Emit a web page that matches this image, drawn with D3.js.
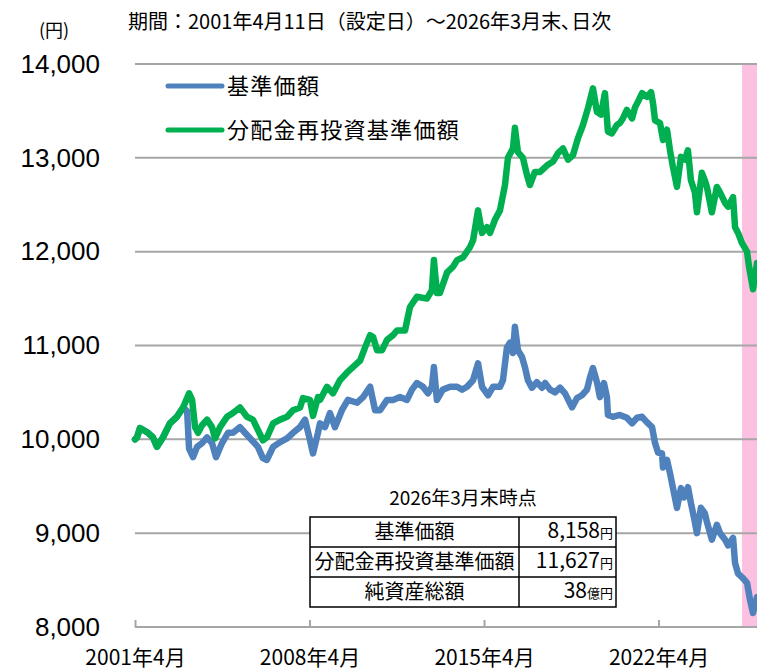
<!DOCTYPE html>
<html>
<head>
<meta charset="utf-8">
<script src="https://cdn.jsdelivr.net/npm/d3@7"></script>
<style>
  body { margin: 0; background: #fff; }
  text { font-family: "Noto Sans CJK JP", "Noto Sans", sans-serif; fill: #000; }
</style>
</head>
<body>
<div id="chart"></div>
<script>
// 分配金再投資基準価額 (green) - fractional year / value
var reinvYears = [2001.28, 2001.36, 2001.48, 2001.80, 2002.00, 2002.16, 2002.40, 2002.68, 2002.96, 2003.21,
    2003.45, 2003.57, 2003.69, 2003.81, 2003.97, 2004.17, 2004.37, 2004.49, 2004.69, 2004.97,
    2005.21, 2005.49, 2005.77, 2006.01, 2006.21, 2006.41, 2006.57, 2006.82, 2007.10, 2007.38,
    2007.62, 2007.90, 2008.02, 2008.30, 2008.42, 2008.62, 2008.70, 2008.98, 2009.22, 2009.50,
    2009.78, 2010.02, 2010.31, 2010.51, 2010.71, 2010.83, 2010.99, 2011.19, 2011.39, 2011.63,
    2011.79, 2012.11, 2012.31, 2012.59, 2012.99, 2013.19, 2013.27, 2013.39, 2013.51, 2013.80,
    2014.04, 2014.20, 2014.44, 2014.72, 2014.84, 2015.04, 2015.20, 2015.40, 2015.52, 2015.72,
    2015.92, 2016.12, 2016.24, 2016.44, 2016.52, 2016.64, 2016.84, 2017.00, 2017.12, 2017.32,
    2017.53, 2017.81, 2018.05, 2018.25, 2018.45, 2018.65, 2018.85, 2019.05, 2019.25, 2019.45,
    2019.65, 2019.81, 2019.97, 2020.13, 2020.25, 2020.41, 2020.61, 2020.73, 2020.85, 2021.01,
    2021.22, 2021.34, 2021.46, 2021.62, 2021.82, 2021.98, 2022.06, 2022.14, 2022.34, 2022.46,
    2022.62, 2022.74, 2022.86, 2023.02, 2023.18, 2023.34, 2023.46, 2023.58, 2023.74, 2023.82,
    2024.02, 2024.14, 2024.22, 2024.42, 2024.62, 2024.75, 2024.95, 2025.07, 2025.27, 2025.35,
    2025.47, 2025.63, 2025.83, 2025.91, 2026.07, 2026.23];
var reinvValues = [10000, 10020, 10120, 10070, 10020, 9920, 10020, 10170, 10240, 10340,
    10490, 10420, 10130, 10070, 10150, 10210, 10130, 10010, 10130, 10240,
    10280, 10340, 10240, 10210, 10100, 9990, 10020, 10170, 10210, 10240,
    10310, 10340, 10440, 10420, 10250, 10450, 10420, 10560, 10490, 10630,
    10710, 10770, 10840, 10980, 11110, 11090, 10950, 10950, 11060, 11110,
    11160, 11160, 11410, 11520, 11500, 11590, 11910, 11560, 11560, 11780,
    11840, 11910, 11940, 12050, 12120, 12440, 12200, 12260, 12200, 12340,
    12440, 12710, 13000, 13100, 13320, 13060, 13000, 12820, 12710, 12850,
    12850, 12920, 12960, 13050, 13100, 12980, 13030, 13210, 13350, 13530,
    13740, 13490, 13460, 13690, 13280, 13260, 13350, 13370, 13420, 13510,
    13420, 13540, 13600, 13690, 13650, 13700, 13580, 13400, 13370, 13190,
    13300, 13080, 12900, 12690, 13010, 12980, 13080, 12760, 12630, 12420,
    12840, 12760, 12690, 12420, 12690, 12630, 12520, 12480, 12580, 12260,
    12200, 12090, 12000, 11840, 11600, 11880];

// 基準価額 (blue)
var navYears = [2001.28, 2001.36, 2001.48, 2001.80, 2002.00, 2002.16, 2002.40, 2002.68, 2002.96, 2003.21,
    2003.37, 2003.45, 2003.61, 2003.77, 2003.97, 2004.17, 2004.37, 2004.53, 2004.77, 2005.01,
    2005.21, 2005.49, 2005.69, 2005.97, 2006.21, 2006.41, 2006.57, 2006.82, 2007.10, 2007.38,
    2007.62, 2007.90, 2008.10, 2008.30, 2008.42, 2008.62, 2008.70, 2008.90, 2009.10, 2009.30,
    2009.58, 2009.82, 2010.19, 2010.43, 2010.71, 2010.91, 2011.11, 2011.39, 2011.63, 2011.91,
    2012.19, 2012.39, 2012.59, 2012.83, 2013.03, 2013.19, 2013.27, 2013.39, 2013.63, 2013.92,
    2014.20, 2014.40, 2014.60, 2014.84, 2015.04, 2015.20, 2015.44, 2015.64, 2015.92, 2016.04,
    2016.20, 2016.32, 2016.44, 2016.52, 2016.64, 2016.80, 2016.92, 2017.04, 2017.20, 2017.40,
    2017.61, 2017.73, 2017.93, 2018.13, 2018.33, 2018.53, 2018.81, 2019.01, 2019.21, 2019.41,
    2019.53, 2019.65, 2019.81, 2019.93, 2020.09, 2020.21, 2020.25, 2020.45, 2020.73, 2021.01,
    2021.22, 2021.42, 2021.62, 2021.82, 2022.02, 2022.14, 2022.26, 2022.42, 2022.46, 2022.62,
    2022.74, 2022.86, 2023.02, 2023.18, 2023.30, 2023.46, 2023.58, 2023.70, 2023.82, 2023.98,
    2024.14, 2024.22, 2024.42, 2024.62, 2024.75, 2024.95, 2025.07, 2025.27, 2025.35, 2025.47,
    2025.63, 2025.83, 2025.95, 2026.07, 2026.23];
var navValues = [10000, 10020, 10120, 10070, 10020, 9920, 10020, 10170, 10240, 10340,
    10300, 9900, 9810, 9920, 9960, 10020, 9960, 9810, 9960, 10070,
    10070, 10130, 10070, 9990, 9920, 9800, 9780, 9920, 9970, 10010,
    10070, 10130, 10210, 9990, 9850, 10070, 10170, 10130, 10280, 10130,
    10310, 10420, 10390, 10450, 10560, 10310, 10310, 10420, 10420, 10450,
    10420, 10530, 10600, 10560, 10490, 10560, 10770, 10420, 10530, 10560,
    10560, 10530, 10560, 10630, 10810, 10560, 10470, 10560, 10560, 10630,
    10980, 11030, 10920, 11200, 10950, 10880, 10770, 10630, 10550, 10610,
    10550, 10600, 10530, 10500, 10550, 10490, 10340, 10440, 10470, 10530,
    10660, 10760, 10610, 10450, 10600, 10450, 10260, 10240, 10260, 10230,
    10170, 10230, 10240, 10180, 10130, 9960, 9860, 9850, 9700, 9780,
    9640, 9480, 9270, 9480, 9380, 9490, 9320, 9170, 9000, 9270,
    9210, 9120, 8930, 9090, 9000, 8930, 8870, 8950, 8680, 8570,
    8530, 8470, 8290, 8150, 8320];

var yTicks = [8000, 9000, 10000, 11000, 12000, 13000, 14000];
var xTickYears = [2001.28, 2008.28, 2015.28, 2022.28];
var xTickLabels = ["2001年4月", "2008年4月", "2015年4月", "2022年4月"];
var highlightYears = [2025.63, 2026.4];

var seriesNames = ["基準価額", "分配金再投資基準価額"];
var seriesColors = ["#4f81bd", "#00b050"];

var tableTitle = "2026年3月末時点";
var tableLabels = ["基準価額", "分配金再投資基準価額", "純資産総額"];
var tableNumbers = ["8,158", "11,627", "38"];
var tableUnits = ["円", "円", "億円"];

var titleText = "期間：2001年4月11日（設定日）～2026年3月末､日次";

var width = 757, height = 671;
var margin = { top: 64, right: 0, bottom: 44, left: 135 };

var svg = d3.select("#chart").append("svg")
    .attr("width", width)
    .attr("height", height);

var x = d3.scaleLinear()
    .domain([2001.28, 2026.23])
    .range([margin.left, width - margin.right]);

var y = d3.scaleLinear()
    .domain([8000, 14000])
    .range([height - margin.bottom, margin.top]);

// highlight band
svg.append("rect")
    .attr("x", x(highlightYears[0]))
    .attr("y", y(14000))
    .attr("width", x(highlightYears[1]) - x(highlightYears[0]))
    .attr("height", y(8000) - y(14000))
    .style("fill", "#fcc0e0");

// grid lines
svg.selectAll(".grid")
    .data(yTicks.slice(1))
    .enter().append("line")
    .attr("class", "grid")
    .attr("x1", x.range()[0])
    .attr("x2", width)
    .attr("y1", function(d) { return y(d); })
    .attr("y2", function(d) { return y(d); })
    .style("stroke", "#a6a6a6")
    .style("stroke-width", 2);

// x axis
var xAxis = d3.axisBottom(x)
    .tickValues(xTickYears)
    .tickSize(0)
    .tickFormat(function(d, i) { return xTickLabels[i]; });

var xg = svg.append("g")
    .attr("transform", "translate(0," + y(8000) + ")")
    .call(xAxis);
xg.select(".domain").remove();
xg.append("line")
    .attr("x1", x.range()[0]).attr("x2", width)
    .style("stroke", "#a6a6a6").style("stroke-width", 2);
xg.selectAll(".tick").append("line")
    .attr("y1", 0).attr("y2", -7)
    .style("stroke", "#a6a6a6").style("stroke-width", 2);
xg.selectAll(".tick text")
    .attr("y", 0)
    .attr("dy", 38)
    .style("font-size", "21px");

// y axis
var yAxis = d3.axisLeft(y)
    .tickValues(yTicks)
    .tickSize(0)
    .tickFormat(d3.format(","));

var yg = svg.append("g")
    .attr("transform", "translate(100,0)")
    .call(yAxis);
yg.select(".domain").remove();
yg.selectAll(".tick text")
    .attr("x", 0)
    .style("font-family", "'Liberation Sans', sans-serif")
    .style("font-size", "26px");

svg.append("text")
    .attr("x", 54)
    .attr("y", 37)
    .attr("text-anchor", "middle")
    .style("font-size", "18px")
    .text("(円)");

svg.append("text")
    .attr("x", 128)
    .attr("y", 29)
    .style("font-size", "20px")
    .text(titleText);

// lines
var line = d3.line()
    .x(function(d) { return x(d[0]); })
    .y(function(d) { return y(d[1]); });

var navData = navYears.map(function(t, i) { return [t, navValues[i]]; });
var reinvData = reinvYears.map(function(t, i) { return [t, reinvValues[i]]; });

[navData, reinvData].forEach(function(data, i) {
    svg.append("path")
        .datum(data)
        .attr("d", line)
        .style("fill", "none")
        .style("stroke", seriesColors[i])
        .style("stroke-width", 6.5)
        .style("stroke-linejoin", "round")
        .style("stroke-linecap", "round");
});

// legend
var legend = svg.selectAll(".legend")
    .data(seriesNames)
    .enter().append("g")
    .attr("class", "legend")
    .attr("transform", function(d, i) { return "translate(168," + (86 + i * 44) + ")"; });

legend.append("line")
    .attr("x1", 0).attr("x2", 54)
    .style("stroke", function(d, i) { return seriesColors[i]; })
    .style("stroke-width", 5)
    .style("stroke-linecap", "round");

legend.append("text")
    .attr("x", 59)
    .attr("dy", "0.36em")
    .style("font-size", "22px")
    .style("letter-spacing", "1.3px")
    .text(function(d) { return d; });

// summary table
var tbl = { left: 310, mid: 519, right: 616, top: 517, row: 30 };

svg.append("text")
    .attr("x", (tbl.left + tbl.right) / 2)
    .attr("y", tbl.top - 12)
    .attr("text-anchor", "middle")
    .style("font-size", "19px")
    .text(tableTitle);

svg.append("rect")
    .attr("x", tbl.left).attr("y", tbl.top)
    .attr("width", tbl.right - tbl.left)
    .attr("height", tbl.row * tableLabels.length)
    .style("fill", "#fff")
    .style("stroke", "#000")
    .style("stroke-width", 1.5);

svg.append("line")
    .attr("x1", tbl.mid).attr("x2", tbl.mid)
    .attr("y1", tbl.top).attr("y2", tbl.top + tbl.row * tableLabels.length)
    .style("stroke", "#000").style("stroke-width", 1.5);

tableLabels.forEach(function(label, i) {
    var rowY = tbl.top + tbl.row * i;
    if (i > 0) {
        svg.append("line")
            .attr("x1", tbl.left).attr("x2", tbl.right)
            .attr("y1", rowY).attr("y2", rowY)
            .style("stroke", "#000").style("stroke-width", 1.5);
    }
    svg.append("text")
        .attr("x", (tbl.left + tbl.mid) / 2)
        .attr("y", rowY + tbl.row / 2)
        .attr("dy", "0.36em")
        .attr("text-anchor", "middle")
        .style("font-size", "20px")
        .text(label);

    var val = svg.append("text")
        .attr("x", tbl.right - 3)
        .attr("y", rowY + tbl.row / 2)
        .attr("dy", "0.36em")
        .attr("text-anchor", "end");
    val.append("tspan")
        .style("font-size", "21px")
        .text(tableNumbers[i]);
    val.append("tspan")
        .style("font-size", "13px")
        .text(tableUnits[i]);
});
</script>
</body>
</html>
